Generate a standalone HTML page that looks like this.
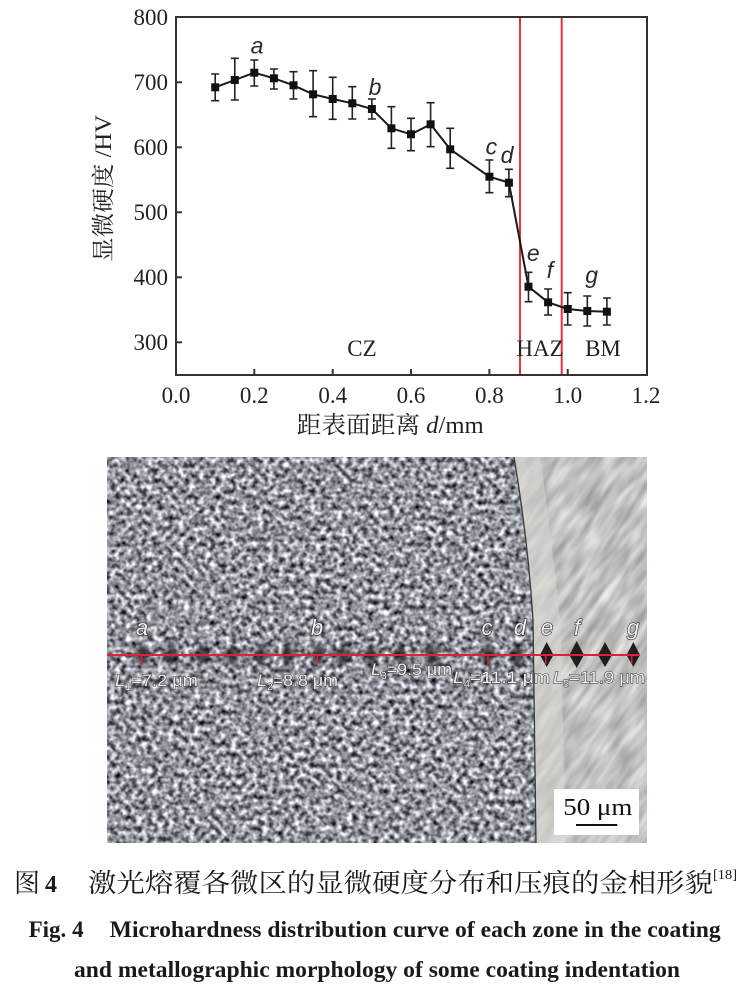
<!DOCTYPE html>
<html><head><meta charset="utf-8">
<style>
html,body{margin:0;padding:0;background:#fff;}
svg{display:block;}
</style></head>
<body>
<svg width="748" height="990" viewBox="0 0 748 990" xmlns="http://www.w3.org/2000/svg">
<defs>
  <filter id="grainL" x="0" y="0" width="1" height="1" color-interpolation-filters="sRGB">
    <feTurbulence type="fractalNoise" baseFrequency="0.19" numOctaves="2" seed="7"/>
    <feGaussianBlur stdDeviation="0.6"/>
    <feColorMatrix type="matrix" values="1.7 0 0 0 -0.28  1.7 0 0 0 -0.27  1.7 0 0 0 -0.24  0 0 0 0 1"/>
  </filter>
  <filter id="grainR" x="0" y="0" width="1" height="1" color-interpolation-filters="sRGB">
    <feTurbulence type="fractalNoise" baseFrequency="0.03 0.14" numOctaves="2" seed="3"/>
    <feGaussianBlur stdDeviation="0.8"/>
    <feColorMatrix type="matrix" values="0.45 0 0 0 0.535  0.45 0 0 0 0.535  0.45 0 0 0 0.525  0 0 0 0 1"/>
  </filter>
  <filter id="blur2" x="-50%" y="-50%" width="200%" height="200%">
    <feGaussianBlur stdDeviation="2"/>
  </filter>
  <clipPath id="imgClip"><rect x="107" y="457" width="540" height="386"/></clipPath>
  <clipPath id="leftClip"><path d="M107,457 L514,457 Q528,540 533,620 L536,843 L107,843 Z"/></clipPath>
</defs>

<!-- ================= CHART ================= -->
<g font-family="'Liberation Serif','Noto Serif CJK SC',serif" fill="#222">
  <line x1="520" y1="17" x2="520" y2="375" stroke="#e8333f" stroke-width="2"/>
  <line x1="561.7" y1="17" x2="561.7" y2="375" stroke="#e8333f" stroke-width="2"/>

  <rect x="176" y="17" width="471" height="358" fill="none" stroke="#333" stroke-width="2"/>

  <g stroke="#333" stroke-width="2">
    <line x1="176" y1="342.3" x2="182" y2="342.3"/>
    <line x1="176" y1="277.3" x2="182" y2="277.3"/>
    <line x1="176" y1="212.3" x2="182" y2="212.3"/>
    <line x1="176" y1="147.3" x2="182" y2="147.3"/>
    <line x1="176" y1="82.3" x2="182" y2="82.3"/>
    <line x1="254.3" y1="375" x2="254.3" y2="369"/>
    <line x1="332.7" y1="375" x2="332.7" y2="369"/>
    <line x1="411" y1="375" x2="411" y2="369"/>
    <line x1="489.4" y1="375" x2="489.4" y2="369"/>
    <line x1="567.7" y1="375" x2="567.7" y2="369"/>
  </g>

  <g font-size="23" text-anchor="end">
    <text x="168" y="25">800</text>
    <text x="168" y="90">700</text>
    <text x="168" y="155">600</text>
    <text x="168" y="220">500</text>
    <text x="168" y="285">400</text>
    <text x="168" y="350">300</text>
  </g>
  <g font-size="23" text-anchor="middle">
    <text x="176" y="403">0.0</text>
    <text x="254.3" y="403">0.2</text>
    <text x="332.7" y="403">0.4</text>
    <text x="411" y="403">0.6</text>
    <text x="489.4" y="403">0.8</text>
    <text x="567.7" y="403">1.0</text>
    <text x="646" y="403">1.2</text>
  </g>

  <text x="296.7" y="433" font-size="24" textLength="187" lengthAdjust="spacingAndGlyphs">距表面距离 <tspan font-style="italic">d</tspan>/mm</text>
  <text transform="translate(111,188.5) rotate(-90)" text-anchor="middle" font-size="23" textLength="147" lengthAdjust="spacingAndGlyphs">显微硬度 /HV</text>

  <g font-size="23" text-anchor="middle">
    <text x="362" y="356">CZ</text>
    <text x="540" y="356">HAZ</text>
    <text x="603" y="356">BM</text>
  </g>

  <g stroke="#222" stroke-width="1.6" fill="none">
    <path d="M215.2,74V100.7M211.2,74H219.2M211.2,100.7H219.2"/>
    <path d="M234.8,58.3V100M230.8,58.3H238.8M230.8,100H238.8"/>
    <path d="M254.3,60V86M250.3,60H258.3M250.3,86H258.3"/>
    <path d="M273.9,69V89M269.9,69H277.9M269.9,89H277.9"/>
    <path d="M293.5,71.7V99M289.5,71.7H297.5M289.5,99H297.5"/>
    <path d="M313.1,70.7V116.7M309.1,70.7H317.1M309.1,116.7H317.1"/>
    <path d="M332.7,77.3V119.3M328.7,77.3H336.7M328.7,119.3H336.7"/>
    <path d="M352.3,86.7V119M348.3,86.7H356.3M348.3,119H356.3"/>
    <path d="M371.9,99V119M367.9,99H375.9M367.9,119H375.9"/>
    <path d="M391.4,106.7V148.3M387.4,106.7H395.4M387.4,148.3H395.4"/>
    <path d="M411,118.3V150.7M407,118.3H415M407,150.7H415"/>
    <path d="M430.6,102.7V146.7M426.6,102.7H434.6M426.6,146.7H434.6"/>
    <path d="M450.2,128.3V168.3M446.2,128.3H454.2M446.2,168.3H454.2"/>
    <path d="M489.4,160V192.7M485.4,160H493.4M485.4,192.7H493.4"/>
    <path d="M508.9,169.3V196.7M504.9,169.3H512.9M504.9,196.7H512.9"/>
    <path d="M528.5,272.3V301.7M524.5,272.3H532.5M524.5,301.7H532.5"/>
    <path d="M548.1,289V315M544.1,289H552.1M544.1,315H552.1"/>
    <path d="M567.7,292.7V325M563.7,292.7H571.7M563.7,325H571.7"/>
    <path d="M587.3,296V326M583.3,296H591.3M583.3,326H591.3"/>
    <path d="M606.9,298V325M602.9,298H610.9M602.9,325H610.9"/>
  </g>

  <polyline fill="none" stroke="#1a1a1a" stroke-width="2" points="215.2,87.3 234.8,80 254.3,72.7 273.9,78.3 293.5,85.3 313.1,94.3 332.7,99 352.3,103.3 371.9,109 391.4,128.3 411,134.3 430.6,124.3 450.2,149.3 489.4,176.7 508.9,182.7 528.5,286.7 548.1,302.3 567.7,309 587.3,311 606.9,311.7"/>

  <g fill="#111">
    <rect x="211.2" y="83.3" width="8" height="8"/>
    <rect x="230.8" y="76" width="8" height="8"/>
    <rect x="250.3" y="68.7" width="8" height="8"/>
    <rect x="269.9" y="74.3" width="8" height="8"/>
    <rect x="289.5" y="81.3" width="8" height="8"/>
    <rect x="309.1" y="90.3" width="8" height="8"/>
    <rect x="328.7" y="95" width="8" height="8"/>
    <rect x="348.3" y="99.3" width="8" height="8"/>
    <rect x="367.9" y="105" width="8" height="8"/>
    <rect x="387.4" y="124.3" width="8" height="8"/>
    <rect x="407" y="130.3" width="8" height="8"/>
    <rect x="426.6" y="120.3" width="8" height="8"/>
    <rect x="446.2" y="145.3" width="8" height="8"/>
    <rect x="485.4" y="172.7" width="8" height="8"/>
    <rect x="504.9" y="178.7" width="8" height="8"/>
    <rect x="524.5" y="282.7" width="8" height="8"/>
    <rect x="544.1" y="298.3" width="8" height="8"/>
    <rect x="563.7" y="305" width="8" height="8"/>
    <rect x="583.3" y="307" width="8" height="8"/>
    <rect x="602.9" y="307.7" width="8" height="8"/>
  </g>

  <g font-family="'Liberation Sans',sans-serif" font-style="italic" font-size="23" text-anchor="middle" fill="#2a2a2a">
    <text x="257" y="53.5">a</text>
    <text x="375" y="95">b</text>
    <text x="491.4" y="154.5">c</text>
    <text x="507" y="163">d</text>
    <text x="533.3" y="261">e</text>
    <text x="550" y="278">f</text>
    <text x="591.7" y="283">g</text>
  </g>
</g>

<!-- ================= MICROGRAPH ================= -->
<g clip-path="url(#imgClip)">
  <rect x="107" y="457" width="540" height="386" fill="#c4c4c1"/>
  <g transform="rotate(-55 590 650)">
    <rect x="340" y="350" width="520" height="620" filter="url(#grainR)"/>
  </g>
  <path d="M514,457 Q528,540 533,620 L536,843 L566,843 L560,620 Q552,540 540,457 Z" fill="#d3d3d0" opacity="0.6"/>
  <g clip-path="url(#leftClip)">
    <rect x="107" y="457" width="440" height="386" fill="#95989d"/>
    <rect x="107" y="457" width="440" height="386" filter="url(#grainL)"/>
  </g>
  <path d="M514,457 Q528,540 533,620 L536,843" fill="none" stroke="#3a3a3a" stroke-width="1.3"/>

  <g fill="#1a1a1a" opacity="0.75" filter="url(#blur2)">
    <path d="M143,643 L151,655 L143,667 L135,655Z"/>
    <path d="M171,643 L179,655 L171,667 L163,655Z"/>
    <path d="M202,643 L210,655 L202,667 L194,655Z"/>
    <path d="M232,643 L240,655 L232,667 L224,655Z"/>
    <path d="M261,643 L269,655 L261,667 L253,655Z"/>
    <path d="M288,643 L296,655 L288,667 L280,655Z"/>
    <path d="M318,643 L326,655 L318,667 L310,655Z"/>
    <path d="M343,643 L351,655 L343,667 L335,655Z"/>
    <path d="M371,643 L379,655 L371,667 L363,655Z"/>
    <path d="M400,642 L408,655 L400,668 L392,655Z"/>
    <path d="M432,642 L440,655 L432,668 L424,655Z"/>
    <path d="M488,642 L496,655 L488,668 L480,655Z"/>
    <path d="M517,642 L525,655 L517,668 L509,655Z"/>
  </g>
  <g fill="#1e1e1e">
    <path d="M546.7,642 L553.5,655 L546.7,667 L539.9,655Z"/>
    <path d="M576.7,641 L584,655 L576.7,668 L569.4,655Z"/>
    <path d="M605,642 L612,655 L605,667 L598,655Z"/>
    <path d="M633.3,642 L640,655 L633.3,667 L626.6,655Z"/>
  </g>

  <line x1="107" y1="655" x2="640" y2="655" stroke="#e0203a" stroke-width="2"/>
  <g stroke="#e0203a" stroke-width="1.5">
    <line x1="141.7" y1="655" x2="141.7" y2="664"/>
    <line x1="317.3" y1="655" x2="317.3" y2="664"/>
    <line x1="488" y1="655" x2="488" y2="664"/>
    <line x1="545.7" y1="655" x2="545.7" y2="664"/>
    <line x1="631.7" y1="655" x2="631.7" y2="664"/>
  </g>

  <g font-family="'Liberation Sans',sans-serif" font-style="italic" font-size="22" text-anchor="middle" fill="#f2f2f2" stroke="#2a2a2a" stroke-width="1.2" paint-order="stroke">
    <text x="142" y="635">a</text>
    <text x="317" y="635">b</text>
    <text x="487" y="635">c</text>
    <text x="520" y="635">d</text>
    <text x="547" y="635">e</text>
    <text x="577" y="635">f</text>
    <text x="633" y="635">g</text>
  </g>

  <g font-family="'Liberation Sans',sans-serif" font-size="17" fill="#f0f0f0" stroke="#333" stroke-width="1" paint-order="stroke">
    <text x="115" y="686" textLength="83" lengthAdjust="spacingAndGlyphs"><tspan font-style="italic">L</tspan><tspan font-size="10" dy="4">1</tspan><tspan dy="-4">=7.2 μm</tspan></text>
    <text x="257" y="686" textLength="81" lengthAdjust="spacingAndGlyphs"><tspan font-style="italic">L</tspan><tspan font-size="10" dy="4">2</tspan><tspan dy="-4">=8.8 μm</tspan></text>
    <text x="371" y="675" textLength="81" lengthAdjust="spacingAndGlyphs"><tspan font-style="italic">L</tspan><tspan font-size="10" dy="4">3</tspan><tspan dy="-4">=9.5 μm</tspan></text>
    <text x="453" y="683" textLength="97" lengthAdjust="spacingAndGlyphs"><tspan font-style="italic">L</tspan><tspan font-size="10" dy="4">4</tspan><tspan dy="-4">=11.1 μm</tspan></text>
    <text x="553" y="683" textLength="92" lengthAdjust="spacingAndGlyphs"><tspan font-style="italic">L</tspan><tspan font-size="10" dy="4">5</tspan><tspan dy="-4">=11.9 μm</tspan></text>
  </g>

  <rect x="554" y="789" width="85" height="46" fill="#ffffff"/>
  <text x="563.3" y="815" font-family="'Liberation Serif',serif" font-size="24" fill="#111" textLength="69" lengthAdjust="spacingAndGlyphs">50 μm</text>
  <line x1="576" y1="825" x2="617.3" y2="825" stroke="#111" stroke-width="2"/>
</g>

<!-- ================= CAPTION ================= -->
<g font-family="'Liberation Serif','Noto Serif CJK SC',serif" fill="#1a1a1a">
  <text x="14" y="892" font-size="26">图</text>
  <text x="45" y="892" font-size="24" font-weight="bold">4</text>
  <text x="88" y="892" font-size="26" textLength="625" lengthAdjust="spacingAndGlyphs">激光熔覆各微区的显微硬度分布和压痕的金相形貌</text>
  <text x="713" y="879" font-size="14" textLength="24" lengthAdjust="spacingAndGlyphs">[18]</text>

  <text x="28.6" y="937" font-size="23" font-weight="bold" textLength="55" lengthAdjust="spacingAndGlyphs">Fig. 4</text>
  <text x="109.7" y="937" font-size="23" font-weight="bold" textLength="611" lengthAdjust="spacingAndGlyphs">Microhardness distribution curve of each zone in the coating</text>
  <text x="74" y="977" font-size="23" font-weight="bold" textLength="606" lengthAdjust="spacingAndGlyphs">and metallographic morphology of some coating indentation</text>
</g>
</svg>
</body></html>
